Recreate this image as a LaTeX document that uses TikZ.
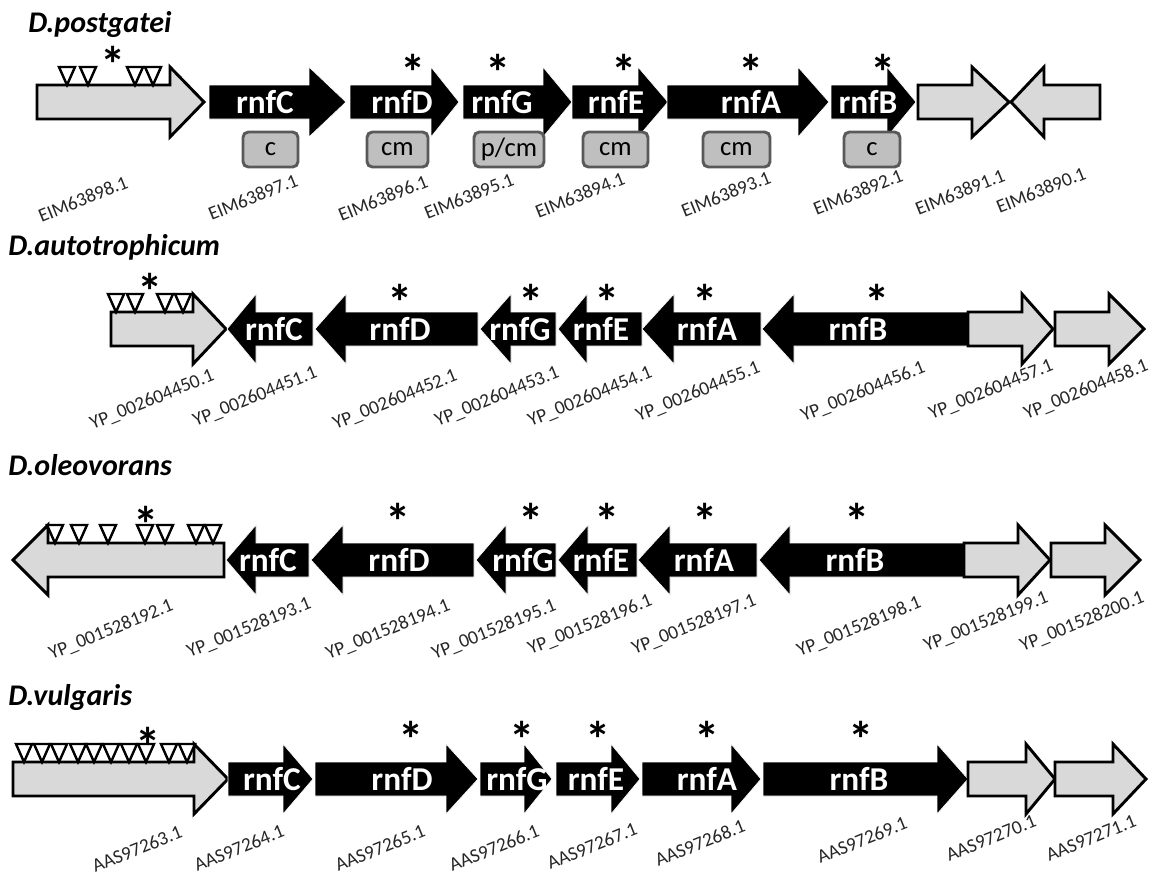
\documentclass[tikz,border=0pt]{standalone}
\usepackage{fontspec}
\setmainfont{Carlito}
\definecolor{gfill}{HTML}{D9D9D9}
\definecolor{boxfill}{HTML}{BFBFBF}
\definecolor{boxedge}{HTML}{595959}
\tikzset{
 grayarrow/.style={draw=black, line width=2.2pt, fill=gfill, line join=miter},
 blackarrow/.style={fill=black, draw=white, line width=0.5pt, line join=miter},
 genetext/.style={text=white, font=\fontsize{25}{30}\selectfont\bfseries, inner sep=0pt},
 acc/.style={font=\fontsize{14.5}{17}\selectfont, text=black!85, rotate=22, inner sep=0pt},
 astk/.style={font=\fontsize{38}{44}\selectfont\bfseries, inner sep=0pt, anchor=north},
 tri/.style={draw=black, fill=white, line width=1.8pt, line join=miter},
 ttl/.style={font=\fontsize{22.5}{27}\selectfont\bfseries\itshape, anchor=base west, inner sep=0pt},
 pbox/.style={draw=boxedge, fill=boxfill, line width=2.2pt, rounded corners=4pt, minimum height=26.25pt, inner sep=0pt, font=\fontsize{20}{24}\selectfont},
}
% y, base end, head start, tip
\newcommand{\garr}[4]{\draw[grayarrow] (#2,#1-17) -- (#3,#1-17) -- (#3,#1-35) -- (#4,#1) -- (#3,#1+35) -- (#3,#1+17) -- (#2,#1+17) -- cycle;}
% name, y, base end, head start, tip, text x, text
\newcommand{\barr}[7]{\draw[blackarrow] (#3,#2-17) -- (#4,#2-17) -- (#4,#2-35) -- (#5,#2) -- (#4,#2+35) -- (#4,#2+17) -- (#3,#2+17) -- cycle;
 \node[genetext] (#1) at (#6,#2) {#7};}
% name, x, top y
\newcommand{\astr}[3]{\node[astk] (#1) at (#2,#3) {*};}
% x, arrow centre y  (triangle tip sits on the body top)
\newcommand{\dtri}[2]{\draw[tri] (#1-8,#2-35) -- (#1+8,#2-35) -- (#1,#2-17) -- cycle;}
\begin{document}
\begin{tikzpicture}[x=0.75pt,y=-0.75pt]
\useasboundingbox (0,0) rectangle (1153,876);
% ===== Row 1: D.postgatei =====
\node[ttl] (t1) at (28,32) {D.postgatei};
\garr{102}{37}{170}{204}
\foreach \x in {67,88,135,153} {\dtri{\x}{102}}
\astr{s1g}{113}{46}
\barr{a1C}{102}{209}{309}{346}{265}{rnfC}
\barr{a1D}{102}{350}{431}{459}{402}{rnfD}
\barr{a1G}{102}{463}{543}{572}{502}{rnfG}
\barr{a1E}{102}{572}{638}{668}{616}{rnfE}
\barr{a1A}{102}{667}{798}{829}{751}{rnfA}
\barr{a1B}{102}{831}{887}{916}{868}{rnfB}
\garr{102}{918}{972}{1009}
\garr{102}{1100}{1044}{1011}
\astr{s1D}{413}{54}
\astr{s1G}{498}{54}
\astr{s1E}{624}{54}
\astr{s1A}{751}{54}
\astr{s1B}{883}{54}
\node[pbox, minimum width=41.25pt] (b1C) at (270.5,149.5) {c};
\node[pbox, minimum width=45.75pt] (b1D) at (397.5,149.5) {cm};
\node[pbox, minimum width=52.5pt] (b1G) at (509,149.5) {p/cm};
\node[pbox, minimum width=48.75pt] (b1E) at (615.5,149.5) {cm};
\node[pbox, minimum width=50.25pt] (b1A) at (736.5,149.5) {cm};
\node[pbox, minimum width=42pt] (b1B) at (872,149.5) {c};
\node[acc] (l1a) at (83,199) {EIM63898.1};
\node[acc] (l1b) at (253,197) {EIM63897.1};
\node[acc] (l1c) at (383,198) {EIM63896.1};
\node[acc] (l1d) at (469,196) {EIM63895.1};
\node[acc] (l1e) at (580,195) {EIM63894.1};
\node[acc] (l1f) at (726,194) {EIM63893.1};
\node[acc] (l1g) at (858,192) {EIM63892.1};
\node[acc] (l1h) at (960,192) {EIM63891.1};
\node[acc] (l1i) at (1041,190) {EIM63890.1};
% ===== Row 2: D.autotrophicum =====
\node[ttl] (t2) at (8,255) {D.autotrophicum};
\garr{329}{111}{193}{226}
\foreach \x in {116,135,165,183} {\dtri{\x}{329}}
\astr{s2g}{150}{273}
\barr{a2C}{329}{313}{256}{227}{274}{rnfC}
\barr{a2D}{329}{478}{346}{315}{400}{rnfD}
\barr{a2G}{329}{556}{511}{480}{520}{rnfG}
\barr{a2E}{329}{642}{587}{558}{601}{rnfE}
\barr{a2A}{329}{761}{674}{642}{707}{rnfA}
\barr{a2B}{329}{968}{794}{762}{858}{rnfB}
\garr{329}{968}{1022}{1053}
\garr{329}{1055}{1109}{1144}
\astr{s2D}{400}{284}
\astr{s2G}{531}{284}
\astr{s2E}{607}{284}
\astr{s2A}{705}{284}
\astr{s2B}{877}{284}
\node[acc] (l2a) at (152,400) {YP\_002604450.1};
\node[acc] (l2b) at (255,397) {YP\_002604451.1};
\node[acc] (l2c) at (395,400) {YP\_002604452.1};
\node[acc] (l2d) at (497,397) {YP\_002604453.1};
\node[acc] (l2e) at (590,397) {YP\_002604454.1};
\node[acc] (l2f) at (698,392) {YP\_002604455.1};
\node[acc] (l2g) at (863,392) {YP\_002604456.1};
\node[acc] (l2h) at (991,390) {YP\_002604457.1};
\node[acc] (l2i) at (1086,390) {YP\_002604458.1};
% ===== Row 3: D.oleovorans =====
\node[ttl] (t3) at (8,475) {D.oleovorans};
\garr{560}{224}{48}{13}
\foreach \x in {55,79,108,145,165,196,213} {\dtri{\x}{560}}
\astr{s3g}{146}{506}
\barr{a3C}{560}{309}{256}{226}{268}{rnfC}
\barr{a3D}{560}{474}{343}{311}{399}{rnfD}
\barr{a3G}{560}{556}{506}{476}{523}{rnfG}
\barr{a3E}{560}{637}{588}{558}{601}{rnfE}
\barr{a3A}{560}{757}{670}{638}{704}{rnfA}
\barr{a3B}{560}{964}{790}{759}{855}{rnfB}
\garr{560}{964}{1018}{1050}
\garr{560}{1051}{1105}{1140}
\astr{s3D}{398}{503}
\astr{s3G}{531}{503}
\astr{s3E}{607}{503}
\astr{s3A}{705}{503}
\astr{s3B}{857}{503}
\node[acc] (l3a) at (111,630) {YP\_001528192.1};
\node[acc] (l3b) at (249,628) {YP\_001528193.1};
\node[acc] (l3c) at (388,630) {YP\_001528194.1};
\node[acc] (l3d) at (494,630) {YP\_001528195.1};
\node[acc] (l3e) at (590,625) {YP\_001528196.1};
\node[acc] (l3f) at (694,625) {YP\_001528197.1};
\node[acc] (l3g) at (859,627) {YP\_001528198.1};
\node[acc] (l3h) at (986,622) {YP\_001528199.1};
\node[acc] (l3i) at (1082,622) {YP\_001528200.1};
% ===== Row 4: D.vulgaris =====
\node[ttl] (t4) at (8,705) {D.vulgaris};
\garr{779}{13}{194}{228}
\foreach \x in {24,42,59,78,94,111,129,146,169,187} {\dtri{\x}{779}}
\astr{s4g}{148}{727}
\barr{a4C}{779}{228}{283}{313}{272}{rnfC}
\barr{a4D}{779}{315}{446}{478}{402}{rnfD}
\barr{a4G}{779}{480}{524}{552}{517}{rnfG}
\barr{a4E}{779}{556}{611}{640}{596}{rnfE}
\barr{a4A}{779}{642}{731}{761}{707}{rnfA}
\barr{a4B}{779}{763}{937}{968}{859}{rnfB}
\garr{779}{968}{1026}{1055}
\garr{779}{1055}{1113}{1146}
\astr{s4D}{411}{721}
\astr{s4G}{522}{721}
\astr{s4E}{598}{721}
\astr{s4A}{707}{721}
\astr{s4B}{861}{721}
\node[acc] (l4a) at (137,849) {AAS97263.1};
\node[acc] (l4b) at (239,848) {AAS97264.1};
\node[acc] (l4c) at (380,848) {AAS97265.1};
\node[acc] (l4d) at (494,848) {AAS97266.1};
\node[acc] (l4e) at (592,846) {AAS97267.1};
\node[acc] (l4f) at (700,843) {AAS97268.1};
\node[acc] (l4g) at (862,840) {AAS97269.1};
\node[acc] (l4h) at (991,838) {AAS97270.1};
\node[acc] (l4i) at (1091,838) {AAS97271.1};
\end{tikzpicture}
\end{document}
